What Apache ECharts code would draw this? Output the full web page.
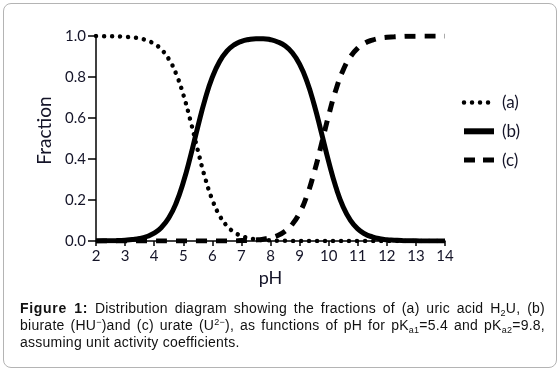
<!DOCTYPE html>
<html>
<head>
<meta charset="utf-8">
<script src="https://cdn.jsdelivr.net/npm/echarts@6/dist/echarts.min.js"></script>
<style>
  html, body { margin: 0; padding: 0; background: #fff; }
  .frame {
    position: absolute; left: 3px; top: 3px; width: 552px; height: 363px;
    border: 1px solid #b4b4b4; border-radius: 8px;
  }
  #chart { position: absolute; left: 0; top: 0; width: 560px; height: 371px; }
  .caption {
    position: absolute; left: 20px; top: 300px; width: 525px;
    font-family: "Liberation Sans", Arial, sans-serif; font-size: 14px;
    line-height: 17px; color: #111; letter-spacing: 0.25px;
  }
  .caption div { white-space: nowrap; }
  .caption .j { text-align: justify; text-align-last: justify; }
  .caption b { letter-spacing: 0.7px; }
  .caption sub { font-size: 9px; vertical-align: -3px; line-height: 0; }
  .caption sup { font-size: 9px; vertical-align: 5px; line-height: 0; }
</style>
</head>
<body>
<div class="frame"></div>
<div id="chart"></div>
<div class="caption">
  <div class="j"><b>Figure 1:</b> Distribution diagram showing the fractions of (a) uric acid H<sub>2</sub>U, (b)</div>
  <div class="j">biurate (HU<sup>−</sup>)and (c) urate (U<sup>2−</sup>), as functions of pH for pK<sub>a1</sub>=5.4 and pK<sub>a2</sub>=9.8,</div>
  <div>assuming unit activity coefficients.</div>
</div>
<script>
// pH values, step 0.25
const pH = [2, 2.25, 2.5, 2.75, 3, 3.25, 3.5, 3.75, 4, 4.25, 4.5, 4.75, 5, 5.25, 5.5, 5.75,
  6, 6.25, 6.5, 6.75, 7, 7.25, 7.5, 7.75, 8, 8.25, 8.5, 8.75, 9, 9.25, 9.5, 9.75,
  10, 10.25, 10.5, 10.75, 11, 11.25, 11.5, 11.75, 12, 12.25, 12.5, 12.75, 13, 13.25, 13.5, 13.75, 14]

// (a) uric acid H2U
const fracA = [1.000, 0.999, 0.999, 0.998, 0.996, 0.993, 0.988, 0.978, 0.962, 0.934, 0.888, 0.817,
  0.715, 0.586, 0.443, 0.309, 0.201, 0.124, 0.074, 0.043, 0.025, 0.014, 0.008, 0.004, 0.003,
  0.001, 0.001, 0, 0, 0, 0, 0, 0, 0, 0, 0, 0, 0, 0, 0, 0, 0, 0, 0, 0, 0, 0, 0, 0]

// (b) biurate HU-
const fracB = [0, 0.001, 0.001, 0.002, 0.004, 0.007, 0.012, 0.022, 0.038, 0.066, 0.112, 0.183,
  0.285, 0.414, 0.557, 0.691, 0.799, 0.876, 0.926, 0.957, 0.974, 0.983, 0.987, 0.987, 0.982,
  0.971, 0.952, 0.918, 0.863, 0.780, 0.666, 0.529, 0.387, 0.262, 0.166, 0.101, 0.059, 0.034,
  0.020, 0.011, 0.006, 0.004, 0.002, 0.001, 0.001, 0, 0, 0, 0]

// (c) urate U2-
const fracC = [0, 0, 0, 0, 0, 0, 0, 0, 0, 0, 0, 0, 0, 0, 0, 0, 0, 0, 0, 0,
  0.002, 0.003, 0.005, 0.009, 0.016, 0.027, 0.048, 0.082, 0.137, 0.220, 0.334, 0.471,
  0.613, 0.738, 0.834, 0.899, 0.941, 0.966, 0.980, 0.989, 0.994, 0.996, 0.998, 0.999,
  0.999, 1, 1, 1, 1]

const xTicks = [2, 3, 4, 5, 6, 7, 8, 9, 10, 11, 12, 13, 14]
const yTicks = [0, 0.2, 0.4, 0.6, 0.8, 1.0]

const pairs = arr => pH.map((x, i) => [x, arr[i]])

let mychart = echarts.init(document.getElementById('chart'))

const labelFont = 'Lato, "Open Sans", sans-serif'
const ink = '#141428'

const dotStyle = { color: '#000', width: 4.5, type: [0.01, 8], cap: 'round' }
const solidStyle = { color: '#000', width: 5, type: 'solid', cap: 'butt' }
const dashStyle = { color: '#000', width: 5, type: [11, 9], cap: 'butt' }

mychart.setOption({
  animation: false,
  grid: { left: 96, right: 115, top: 36, bottom: 130, containLabel: false },
  legend: {
    orient: 'vertical',
    left: 456,
    top: 89,
    itemWidth: 30,
    itemHeight: 14,
    itemGap: 11.8,
    textStyle: { fontFamily: labelFont, fontSize: 17, color: ink, lineHeight: 16, padding: [0, 0, 0, 3] },
    itemStyle: { opacity: 0 },
    data: [
      { name: '(a)', lineStyle: dotStyle },
      { name: '(b)', lineStyle: Object.assign({}, solidStyle, { width: 6 }) },
      { name: '(c)', lineStyle: Object.assign({}, dashStyle, { type: [11, 8] }) }
    ]
  },
  xAxis: {
    type: 'value',
    min: 2, max: 14, interval: 1,
    name: 'pH',
    nameLocation: 'middle',
    nameGap: 26,
    nameTextStyle: { fontFamily: labelFont, fontSize: 18, color: ink },
    axisLine: { show: true, onZero: false, lineStyle: { color: '#000', width: 1.5 } },
    axisTick: { show: true, inside: false, length: 5, lineStyle: { color: '#000', width: 1.5 } },
    axisLabel: {
      margin: 8, fontFamily: labelFont, fontSize: 15, color: ink,
      formatter: v => xTicks.includes(v) ? String(v) : ''
    },
    splitLine: { show: false }
  },
  yAxis: {
    type: 'value',
    min: 0, max: 1, interval: 0.2,
    name: 'Fraction',
    nameLocation: 'middle',
    nameGap: 36,
    nameRotate: 90,
    nameTextStyle: { fontFamily: labelFont, fontSize: 19, color: ink, padding: [0, 0, 0, 16] },
    axisLine: { show: true, lineStyle: { color: '#000', width: 1.5 } },
    axisTick: { show: true, inside: false, length: 8, lineStyle: { color: '#000', width: 1.5 } },
    axisLabel: {
      margin: 10, fontFamily: labelFont, fontSize: 15, color: ink,
      formatter: v => yTicks.some(t => Math.abs(t - v) < 1e-9) ? v.toFixed(1) : ''
    },
    splitLine: { show: false }
  },
  series: [
    {
      name: '(a)', type: 'line', data: pairs(fracA),
      symbol: 'none', smooth: 0.5, z: 3,
      itemStyle: { color: '#000' }, lineStyle: dotStyle
    },
    {
      name: '(b)', type: 'line', data: pairs(fracB),
      symbol: 'none', smooth: 0.5, z: 2,
      itemStyle: { color: '#000' }, lineStyle: solidStyle
    },
    {
      name: '(c)', type: 'line', data: pairs(fracC),
      symbol: 'none', smooth: 0.5, z: 1,
      itemStyle: { color: '#000' }, lineStyle: dashStyle
    }
  ]
})
</script>
</body>
</html>
